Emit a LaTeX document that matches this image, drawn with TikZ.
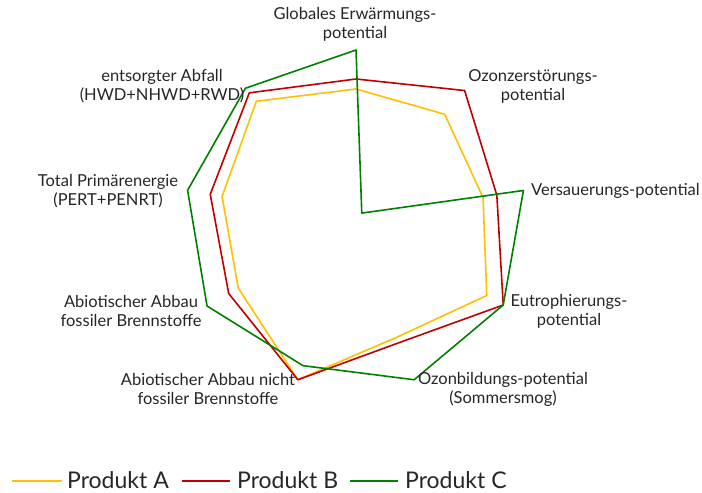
\documentclass[tikz,border=0pt]{standalone}
\usepackage{fontspec}
\setmainfont{Lato}
\definecolor{colA}{HTML}{FFC000}
\definecolor{colB}{HTML}{C00000}
\definecolor{colC}{HTML}{008000}
\begin{document}
\begin{tikzpicture}[x=1pt,y=1pt,
  lbl/.style={align=center, font=\fontsize{16.5}{19}\selectfont, text=black!85, inner sep=0pt},
  leg/.style={anchor=base west, font=\fontsize{23}{27}\selectfont, text=black!85, inner sep=0pt},
  serA/.style={draw=colA, line width=1.6, line join=round},
  serB/.style={draw=colB, line width=1.6, line join=round},
  serC/.style={draw=colC, line width=1.6, line join=round},
  legA/.style={draw=colA, line width=2},
  legB/.style={draw=colB, line width=2},
  legC/.style={draw=colC, line width=2}]
\useasboundingbox (0,0) rectangle (702,493);
\coordinate (ctr) at (356,273);
\begin{scope}[shift={(ctr)}]
\foreach \v [count=\i from 0] in {131,138,129,151,124,170,136,136,155}
  {\coordinate (A\i) at ({90-40*\i}:\v);}
\foreach \v [count=\i from 0] in {141,169,143,170,130,170,147,148,166}
  {\coordinate (B\i) at ({90-40*\i}:\v);}
\foreach \v [count=\i from 0] in {170,9,170,170,170,155,172,171,172}
  {\coordinate (C\i) at ({90-40*\i}:\v);}
\end{scope}
\draw[serA] (A0) -- (A1) -- (A2) -- (A3) -- (A4) -- (A5) -- (A6) -- (A7) -- (A8) -- cycle;
\draw[serB] (B0) -- (B1) -- (B2) -- (B3) -- (B4) -- (B5) -- (B6) -- (B7) -- (B8) -- cycle;
\draw[serC] (C0) -- (C1) -- (C2) -- (C3) -- (C4) -- (C5) -- (C6) -- (C7) -- (C8) -- cycle;
% axis labels
\node[lbl] (gwp) at (355,469) {Globales Erwärmungs-\\potential};
\node[lbl] (odp) at (533,407) {Ozonzerstörungs-\\potential};
\node[lbl, anchor=west] (ap) at (531,302) {Versauerungs-potential};
\node[lbl] (ep) at (569,182) {Eutrophierungs-\\potential};
\node[lbl] (pocp) at (503,104) {Ozonbildungs-potential\\(Sommersmog)};
\node[lbl] (adpe) at (208,104) {Abiotischer Abbau nicht\\fossiler Brennstoffe};
\node[lbl] (adpf) at (131,182) {Abiotischer Abbau\\fossiler Brennstoffe};
\node[lbl] (pe) at (108,302) {Total Primärenergie\\(PERT+PENRT)};
\node[lbl] (waste) at (162,407) {entsorgter Abfall\\(HWD+NHWD+RWD)};
% legend
\coordinate (lA1) at (12,12); \coordinate (lA2) at (62,12);
\coordinate (lB1) at (182,12); \coordinate (lB2) at (230,12);
\coordinate (lC1) at (350,12); \coordinate (lC2) at (398,12);
\draw[legA] (lA1) -- (lA2);
\draw[legB] (lB1) -- (lB2);
\draw[legC] (lC1) -- (lC2);
\node[leg] (tA) at (67,5) {Produkt A};
\node[leg] (tB) at (237,5) {Produkt B};
\node[leg] (tC) at (405,5) {Produkt C};
\end{tikzpicture}
\end{document}
